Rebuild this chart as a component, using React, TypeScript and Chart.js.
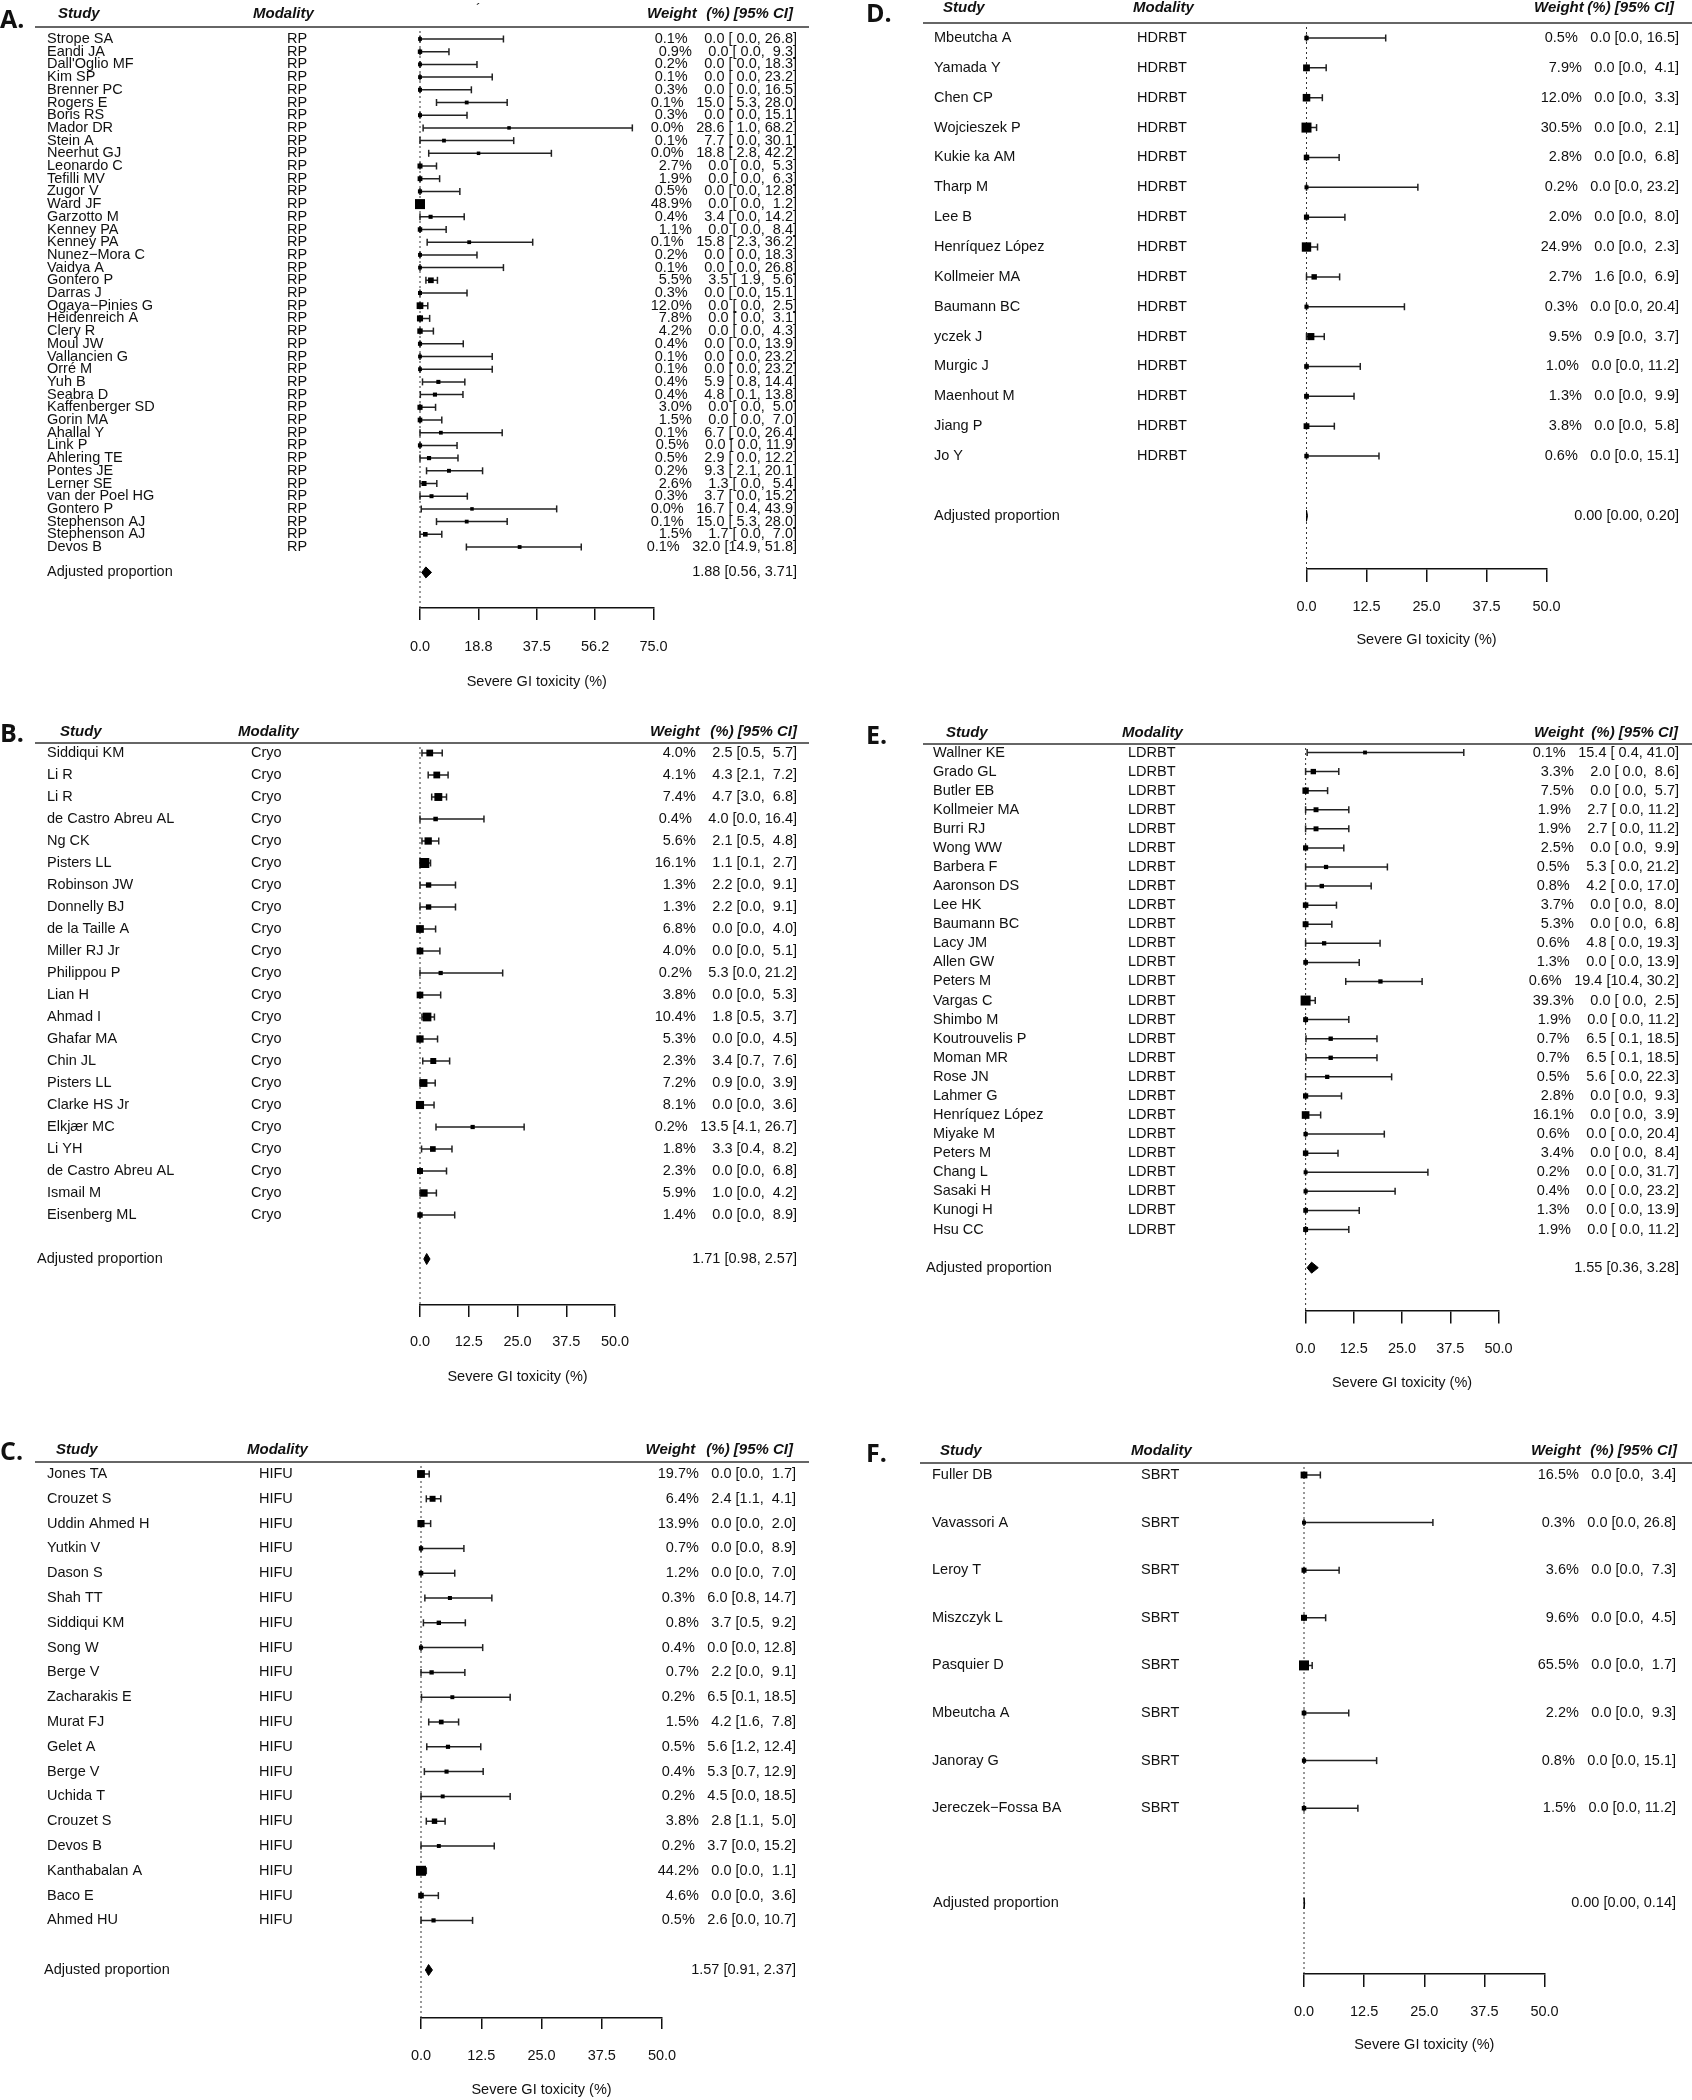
import React, { useEffect, useRef } from 'react';
import { Chart, registerables } from 'chart.js';

Chart.register(...registerables);

const FONT = '"Liberation Sans", Arial, Helvetica, sans-serif';
const TEXT = '#111111';
const INK = '#222222';
const AXIS_TITLE = 'Severe GI toxicity (%)';
const POOLED_LABEL = 'Adjusted proportion';

// ---------- Panel A: RP ----------
const modalityA = 'RP';
const studiesA = ['Strope SA', 'Eandi JA', "Dall'Oglio MF", 'Kim SP', 'Brenner PC', 'Rogers E', 'Boris RS', 'Mador DR', 'Stein A', 'Neerhut GJ', 'Leonardo C', 'Tefilli MV', 'Zugor V', 'Ward JF', 'Garzotto M', 'Kenney PA', 'Kenney PA', 'Nunez\u2212Mora C', 'Vaidya A', 'Gontero P', 'Darras J', 'Ogaya\u2212Pinies G', 'Heidenreich A', 'Clery R', 'Moul JW', 'Vallancien G', 'Orré M', 'Yuh B', 'Seabra D', 'Kaffenberger SD', 'Gorin MA', 'Ahallal Y', 'Link P', 'Ahlering TE', 'Pontes JE', 'Lerner SE', 'van der Poel HG', 'Gontero P', 'Stephenson AJ', 'Stephenson AJ', 'Devos B'];
const weightsA = [0.1, 0.9, 0.2, 0.1, 0.3, 0.1, 0.3, 0.0, 0.1, 0.0, 2.7, 1.9, 0.5, 48.9, 0.4, 1.1, 0.1, 0.2, 0.1, 5.5, 0.3, 12.0, 7.8, 4.2, 0.4, 0.1, 0.1, 0.4, 0.4, 3.0, 1.5, 0.1, 0.5, 0.5, 0.2, 2.6, 0.3, 0.0, 0.1, 1.5, 0.1];
const estA = [0, 0, 0, 0, 0, 15.0, 0, 28.6, 7.7, 18.8, 0, 0, 0, 0, 3.4, 0, 15.8, 0, 0, 3.5, 0, 0, 0, 0, 0, 0, 0, 5.9, 4.8, 0, 0, 6.7, 0, 2.9, 9.3, 1.3, 3.7, 16.7, 15.0, 1.7, 32.0];
const lowerA = [0, 0, 0, 0, 0, 5.3, 0, 1.0, 0, 2.8, 0, 0, 0, 0, 0, 0, 2.3, 0, 0, 1.9, 0, 0, 0, 0, 0, 0, 0, 0.8, 0.1, 0, 0, 0, 0, 0, 2.1, 0, 0, 0.4, 5.3, 0, 14.9];
const upperA = [26.8, 9.3, 18.3, 23.2, 16.5, 28.0, 15.1, 68.2, 30.1, 42.2, 5.3, 6.3, 12.8, 1.2, 14.2, 8.4, 36.2, 18.3, 26.8, 5.6, 15.1, 2.5, 3.1, 4.3, 13.9, 23.2, 23.2, 14.4, 13.8, 5.0, 7.0, 26.4, 11.9, 12.2, 20.1, 5.4, 15.2, 43.9, 28.0, 7.0, 51.8];
const pooledA = [1.88, 0.56, 3.71];
const ticksA = [0, 18.75, 37.5, 56.25, 75];
const tickLabelsA = ['0.0', '18.8', '37.5', '56.2', '75.0'];

// ---------- Panel B: Cryo ----------
const modalityB = 'Cryo';
const studiesB = ['Siddiqui KM', 'Li R', 'Li R', 'de Castro Abreu AL', 'Ng CK', 'Pisters LL', 'Robinson JW', 'Donnelly BJ', 'de la Taille A', 'Miller RJ Jr', 'Philippou P', 'Lian H', 'Ahmad I', 'Ghafar MA', 'Chin JL', 'Pisters LL', 'Clarke HS Jr', 'Elkjær MC', 'Li YH', 'de Castro Abreu AL', 'Ismail M', 'Eisenberg ML'];
const weightsB = [4.0, 4.1, 7.4, 0.4, 5.6, 16.1, 1.3, 1.3, 6.8, 4.0, 0.2, 3.8, 10.4, 5.3, 2.3, 7.2, 8.1, 0.2, 1.8, 2.3, 5.9, 1.4];
const estB = [2.5, 4.3, 4.7, 4.0, 2.1, 1.1, 2.2, 2.2, 0, 0, 5.3, 0, 1.8, 0, 3.4, 0.9, 0, 13.5, 3.3, 0, 1.0, 0];
const lowerB = [0.5, 2.1, 3.0, 0, 0.5, 0.1, 0, 0, 0, 0, 0, 0, 0.5, 0, 0.7, 0, 0, 4.1, 0.4, 0, 0, 0];
const upperB = [5.7, 7.2, 6.8, 16.4, 4.8, 2.7, 9.1, 9.1, 4.0, 5.1, 21.2, 5.3, 3.7, 4.5, 7.6, 3.9, 3.6, 26.7, 8.2, 6.8, 4.2, 8.9];
const pooledB = [1.71, 0.98, 2.57];

// ---------- Panel C: HIFU ----------
const modalityC = 'HIFU';
const studiesC = ['Jones TA', 'Crouzet S', 'Uddin Ahmed H', 'Yutkin V', 'Dason S', 'Shah TT', 'Siddiqui KM', 'Song W', 'Berge V', 'Zacharakis E', 'Murat FJ', 'Gelet A', 'Berge V', 'Uchida T', 'Crouzet S', 'Devos B', 'Kanthabalan A', 'Baco E', 'Ahmed HU'];
const weightsC = [19.7, 6.4, 13.9, 0.7, 1.2, 0.3, 0.8, 0.4, 0.7, 0.2, 1.5, 0.5, 0.4, 0.2, 3.8, 0.2, 44.2, 4.6, 0.5];
const estC = [0, 2.4, 0, 0, 0, 6.0, 3.7, 0, 2.2, 6.5, 4.2, 5.6, 5.3, 4.5, 2.8, 3.7, 0, 0, 2.6];
const lowerC = [0, 1.1, 0, 0, 0, 0.8, 0.5, 0, 0, 0.1, 1.6, 1.2, 0.7, 0, 1.1, 0, 0, 0, 0];
const upperC = [1.7, 4.1, 2.0, 8.9, 7.0, 14.7, 9.2, 12.8, 9.1, 18.5, 7.8, 12.4, 12.9, 18.5, 5.0, 15.2, 1.1, 3.6, 10.7];
const pooledC = [1.57, 0.91, 2.37];

// ---------- Panel D: HDRBT ----------
const modalityD = 'HDRBT';
const studiesD = ['Mbeutcha A', 'Yamada Y', 'Chen CP', 'Wojcieszek P', 'Kukie ka AM', 'Tharp M', 'Lee B', 'Henríquez López', 'Kollmeier MA', 'Baumann BC', 'yczek J', 'Murgic J', 'Maenhout M', 'Jiang P', 'Jo Y'];
const weightsD = [0.5, 7.9, 12.0, 30.5, 2.8, 0.2, 2.0, 24.9, 2.7, 0.3, 9.5, 1.0, 1.3, 3.8, 0.6];
const estD = [0, 0, 0, 0, 0, 0, 0, 0, 1.6, 0, 0.9, 0, 0, 0, 0];
const lowerD = [0, 0, 0, 0, 0, 0, 0, 0, 0, 0, 0, 0, 0, 0, 0];
const upperD = [16.5, 4.1, 3.3, 2.1, 6.8, 23.2, 8.0, 2.3, 6.9, 20.4, 3.7, 11.2, 9.9, 5.8, 15.1];
const pooledD = [0.0, 0.0, 0.2];

// ---------- Panel E: LDRBT ----------
const modalityE = 'LDRBT';
const studiesE = ['Wallner KE', 'Grado GL', 'Butler EB', 'Kollmeier MA', 'Burri RJ', 'Wong WW', 'Barbera F', 'Aaronson DS', 'Lee HK', 'Baumann BC', 'Lacy JM', 'Allen GW', 'Peters M', 'Vargas C', 'Shimbo M', 'Koutrouvelis P', 'Moman MR', 'Rose JN', 'Lahmer G', 'Henríquez López', 'Miyake M', 'Peters M', 'Chang L', 'Sasaki H', 'Kunogi H', 'Hsu CC'];
const weightsE = [0.1, 3.3, 7.5, 1.9, 1.9, 2.5, 0.5, 0.8, 3.7, 5.3, 0.6, 1.3, 0.6, 39.3, 1.9, 0.7, 0.7, 0.5, 2.8, 16.1, 0.6, 3.4, 0.2, 0.4, 1.3, 1.9];
const estE = [15.4, 2.0, 0, 2.7, 2.7, 0, 5.3, 4.2, 0, 0, 4.8, 0, 19.4, 0, 0, 6.5, 6.5, 5.6, 0, 0, 0, 0, 0, 0, 0, 0];
const lowerE = [0.4, 0, 0, 0, 0, 0, 0, 0, 0, 0, 0, 0, 10.4, 0, 0, 0.1, 0.1, 0, 0, 0, 0, 0, 0, 0, 0, 0];
const upperE = [41.0, 8.6, 5.7, 11.2, 11.2, 9.9, 21.2, 17.0, 8.0, 6.8, 19.3, 13.9, 30.2, 2.5, 11.2, 18.5, 18.5, 22.3, 9.3, 3.9, 20.4, 8.4, 31.7, 23.2, 13.9, 11.2];
const pooledE = [1.55, 0.36, 3.28];

// ---------- Panel F: SBRT ----------
const modalityF = 'SBRT';
const studiesF = ['Fuller DB', 'Vavassori A', 'Leroy T', 'Miszczyk L', 'Pasquier D', 'Mbeutcha A', 'Janoray G', 'Jereczek\u2212Fossa BA'];
const weightsF = [16.5, 0.3, 3.6, 9.6, 65.5, 2.2, 0.8, 1.5];
const estF = [0, 0, 0, 0, 0, 0, 0, 0];
const lowerF = [0, 0, 0, 0, 0, 0, 0, 0];
const upperF = [3.4, 26.8, 7.3, 4.5, 1.7, 9.3, 15.1, 11.2];
const pooledF = [0.0, 0.0, 0.14];

const ticks50 = [0, 12.5, 25, 37.5, 50];
const tickLabels50 = ['0.0', '12.5', '25.0', '37.5', '50.0'];

// ---------- layout (page pixels) ----------
type Layout = {
  left: number; top: number; width: number; height: number;
  letterX: number; letterY: number;
  headY: number; studyHX: number; modHX: number; weightHX: number; ciHR: number;
  lineY: number; lineX0: number; lineX1: number;
  firstY: number; step: number;
  nameX: number; modX: number; ciR: number; adjX: number;
  zeroX: number; maxX: number; axisY: number; tickLen: number; labelY: number; titleY: number;
};

const layoutA: Layout = { left: 0, top: 0, width: 846, height: 700, letterX: 0, letterY: 21, headY: 14, studyHX: 58, modHX: 253, weightHX: 647, ciHR: 793, lineY: 27, lineX0: 35, lineX1: 809, firstY: 39, step: 12.7, nameX: 47, modX: 287, ciR: 797, adjX: 47, zeroX: 420, maxX: 653.5, axisY: 608, tickLen: 12, labelY: 647, titleY: 682 };
const layoutB: Layout = { left: 0, top: 700, width: 846, height: 720, letterX: 0, letterY: 735, headY: 732, studyHX: 60, modHX: 238, weightHX: 650, ciHR: 797, lineY: 743, lineX0: 35, lineX1: 809, firstY: 753, step: 22, nameX: 47, modX: 251, ciR: 797, adjX: 37, zeroX: 420, maxX: 615, axisY: 1305, tickLen: 12, labelY: 1342, titleY: 1377 };
const layoutC: Layout = { left: 0, top: 1420, width: 846, height: 680, letterX: 0, letterY: 1453, headY: 1449.5, studyHX: 56, modHX: 247, weightHX: 645.5, ciHR: 793, lineY: 1462, lineX0: 35, lineX1: 809, firstY: 1474, step: 24.8, nameX: 47, modX: 259, ciR: 796, adjX: 44, zeroX: 421, maxX: 662, axisY: 2018, tickLen: 11, labelY: 2056, titleY: 2090 };
const layoutD: Layout = { left: 846, top: 0, width: 846, height: 700, letterX: 866, letterY: 15, headY: 8, studyHX: 943, modHX: 1133, weightHX: 1534, ciHR: 1674, lineY: 23, lineX0: 923, lineX1: 1692, firstY: 38, step: 29.86, nameX: 934, modX: 1137, ciR: 1679, adjX: 934, zeroX: 1306.5, maxX: 1546.5, axisY: 569, tickLen: 13, labelY: 607, titleY: 640 };
const layoutE: Layout = { left: 846, top: 700, width: 846, height: 720, letterX: 866, letterY: 737, headY: 733, studyHX: 946, modHX: 1122, weightHX: 1534, ciHR: 1678, lineY: 744, lineX0: 923, lineX1: 1692, firstY: 752.5, step: 19.08, nameX: 933, modX: 1128, ciR: 1679, adjX: 926, zeroX: 1305.6, maxX: 1498.5, axisY: 1310.6, tickLen: 13, labelY: 1349, titleY: 1383 };
const layoutF: Layout = { left: 846, top: 1420, width: 846, height: 680, letterX: 866, letterY: 1455, headY: 1451, studyHX: 940, modHX: 1131, weightHX: 1531, ciHR: 1677, lineY: 1463, lineX0: 920, lineX1: 1692, firstY: 1475, step: 47.6, nameX: 932, modX: 1141, ciR: 1676, adjX: 933, zeroX: 1304, maxX: 1544.5, axisY: 1974, tickLen: 13, labelY: 2012, titleY: 2045 };

type Panel = {
  letter: string; modality: string; studies: string[]; weights: number[];
  est: number[]; lower: number[]; upper: number[]; pooled: number[];
  ticks: number[]; tickLabels: string[]; layout: Layout; mark?: boolean;
};

const panels: Panel[] = [
  { letter: 'A.', modality: modalityA, studies: studiesA, weights: weightsA, est: estA, lower: lowerA, upper: upperA, pooled: pooledA, ticks: ticksA, tickLabels: tickLabelsA, layout: layoutA, mark: true },
  { letter: 'B.', modality: modalityB, studies: studiesB, weights: weightsB, est: estB, lower: lowerB, upper: upperB, pooled: pooledB, ticks: ticks50, tickLabels: tickLabels50, layout: layoutB },
  { letter: 'C.', modality: modalityC, studies: studiesC, weights: weightsC, est: estC, lower: lowerC, upper: upperC, pooled: pooledC, ticks: ticks50, tickLabels: tickLabels50, layout: layoutC },
  { letter: 'D.', modality: modalityD, studies: studiesD, weights: weightsD, est: estD, lower: lowerD, upper: upperD, pooled: pooledD, ticks: ticks50, tickLabels: tickLabels50, layout: layoutD },
  { letter: 'E.', modality: modalityE, studies: studiesE, weights: weightsE, est: estE, lower: lowerE, upper: upperE, pooled: pooledE, ticks: ticks50, tickLabels: tickLabels50, layout: layoutE },
  { letter: 'F.', modality: modalityF, studies: studiesF, weights: weightsF, est: estF, lower: lowerF, upper: upperF, pooled: pooledF, ticks: ticks50, tickLabels: tickLabels50, layout: layoutF },
];

const BODY_SIZE = 14.5;
const GAP = 12.5;

function padCol(values: number[]): string[] {
  const s = values.map((v) => v.toFixed(1));
  const m = Math.max(...s.map((t) => t.length));
  return s.map((t) => t.padStart(m, ' '));
}

function makeChart(canvas: HTMLCanvasElement, p: Panel) {
  const L = p.layout;
  const ox = L.left;
  const oy = L.top;
  const n = p.studies.length;
  const rows = p.studies.map((_, i) => i + 1);
  const pooledRow = n + 2;
  const maxW = Math.max(...p.weights);
  const radii = p.weights.map((w) => (3.5 + 6.5 * Math.sqrt(w / maxW)) / Math.SQRT2);
  const whisker: { x: number | null; y: number | null }[] = [];
  rows.forEach((r, i) => {
    whisker.push({ x: p.lower[i], y: r }, { x: p.upper[i], y: r }, { x: null, y: null });
  });
  const estS = padCol(p.est);
  const loS = padCol(p.lower);
  const hiS = padCol(p.upper);
  const rightS = rows.map((_, i) => `${estS[i]} [${loS[i]}, ${hiS[i]}]`);
  const weightS = p.weights.map((w) => `${w.toFixed(1)}%`);
  const pooledS = `${p.pooled[0].toFixed(2)} [${p.pooled[1].toFixed(2)}, ${p.pooled[2].toFixed(2)}]`;
  const yMin = 1 - (L.firstY - L.lineY) / L.step;
  const yMax = 1 + (L.axisY - L.firstY) / L.step;
  const xMax = p.ticks[p.ticks.length - 1];
  const bodyFont = `${BODY_SIZE}px ${FONT}`;

  const forestPlugin = {
    id: 'forest' + p.letter.charAt(0),
    beforeDatasetsDraw(chart: any) {
      const { ctx, chartArea } = chart;
      const zx = chart.scales.x.getPixelForValue(0);
      ctx.save();
      ctx.strokeStyle = '#333';
      ctx.lineWidth = 1;
      ctx.setLineDash([2, 3]);
      ctx.beginPath();
      ctx.moveTo(zx, chartArea.top + 4);
      ctx.lineTo(zx, chartArea.bottom);
      ctx.stroke();
      ctx.restore();
    },
    afterDatasetsDraw(chart: any) {
      const { ctx } = chart;
      const x = chart.scales.x;
      const yc = chart.scales.y.getPixelForValue(pooledRow);
      const [est, lo, hi] = p.pooled;
      const h = 5.5;
      ctx.save();
      ctx.fillStyle = '#000';
      ctx.strokeStyle = '#000';
      ctx.lineWidth = 1;
      ctx.beginPath();
      ctx.moveTo(x.getPixelForValue(lo), yc);
      ctx.lineTo(x.getPixelForValue(est), yc - h);
      ctx.lineTo(x.getPixelForValue(hi), yc);
      ctx.lineTo(x.getPixelForValue(est), yc + h);
      ctx.closePath();
      ctx.fill();
      ctx.stroke();
      ctx.restore();
    },
    afterDraw(chart: any) {
      const { ctx } = chart;
      const x = chart.scales.x;
      const y = chart.scales.y;
      ctx.save();
      ctx.fillStyle = TEXT;
      ctx.textBaseline = 'middle';
      ctx.textAlign = 'left';
      ctx.font = `bold 25px "Open Sans", ${FONT}`;
      ctx.fillText(p.letter, L.letterX - ox, L.letterY - oy);
      if (p.mark) {
        ctx.font = `14px ${FONT}`;
        ctx.fillText('\u00B4', 476 - ox, 10 - oy);
      }
      ctx.font = `italic bold 15px ${FONT}`;
      ctx.fillText('Study', L.studyHX - ox, L.headY - oy);
      ctx.fillText('Modality', L.modHX - ox, L.headY - oy);
      ctx.fillText('Weight', L.weightHX - ox, L.headY - oy);
      ctx.textAlign = 'right';
      ctx.fillText('(%) [95% CI]', L.ciHR - ox, L.headY - oy);
      ctx.strokeStyle = '#333';
      ctx.lineWidth = 1.5;
      ctx.beginPath();
      ctx.moveTo(L.lineX0 - ox, L.lineY - oy);
      ctx.lineTo(L.lineX1 - ox, L.lineY - oy);
      ctx.stroke();

      ctx.font = bodyFont;
      rows.forEach((r, i) => {
        const yy = y.getPixelForValue(r);
        ctx.textAlign = 'left';
        ctx.fillText(p.studies[i], L.nameX - ox, yy);
        ctx.fillText(p.modality, L.modX - ox, yy);
        ctx.textAlign = 'right';
        ctx.fillText(rightS[i], L.ciR - ox, yy);
        const wr = L.ciR - ox - ctx.measureText(rightS[i]).width - GAP;
        ctx.fillText(weightS[i], wr, yy);
      });
      const yp = y.getPixelForValue(pooledRow);
      ctx.textAlign = 'left';
      ctx.fillText(POOLED_LABEL, L.adjX - ox, yp);
      ctx.textAlign = 'right';
      ctx.fillText(pooledS, L.ciR - ox, yp);
      ctx.textAlign = 'center';
      ctx.fillText(AXIS_TITLE, (x.left + x.right) / 2, L.titleY - oy);
      ctx.restore();
    },
  };

  return new Chart(canvas, {
    type: 'scatter',
    data: {
      datasets: [
        {
          type: 'scatter',
          data: rows.map((r, i) => ({ x: p.est[i], y: r })),
          pointStyle: 'rect',
          pointRadius: radii,
          pointHoverRadius: radii,
          backgroundColor: '#000',
          pointBackgroundColor: '#000',
          pointBorderWidth: 0,
          borderWidth: 0,
          clip: false,
        } as any,
        {
          type: 'line',
          data: whisker,
          showLine: true,
          spanGaps: false,
          borderColor: INK,
          borderWidth: 1.5,
          pointStyle: 'line',
          pointRotation: 90,
          pointRadius: 3.5,
          pointHoverRadius: 3.5,
          pointBorderColor: INK,
          pointBorderWidth: 1.5,
          pointBackgroundColor: INK,
          fill: false,
          tension: 0,
          clip: false,
        } as any,
      ],
    },
    options: {
      responsive: false,
      animation: false,
      devicePixelRatio: 1,
      events: [],
      layout: {
        padding: { left: L.zeroX - ox, right: L.width - (L.maxX - ox), top: L.lineY - oy, bottom: 0 },
      },
      plugins: { legend: { display: false }, tooltip: { enabled: false }, title: { display: false } },
      scales: {
        x: {
          type: 'linear',
          position: 'bottom',
          min: 0,
          max: xMax,
          afterBuildTicks: (axis: any) => {
            axis.ticks = p.ticks.map((v) => ({ value: v }));
          },
          afterFit: (axis: any) => {
            axis.height = L.height - (L.axisY - oy);
          },
          ticks: {
            autoSkip: false,
            maxRotation: 0,
            minRotation: 0,
            padding: L.labelY - L.axisY - L.tickLen - (BODY_SIZE * 1.2) / 2,
            color: TEXT,
            font: { family: FONT, size: BODY_SIZE },
            callback: (_v: any, i: number) => p.tickLabels[i],
          },
          grid: { display: true, drawOnChartArea: false, drawTicks: true, tickLength: L.tickLen, color: '#111', lineWidth: 1.5 },
          border: { display: true, color: '#111', width: 1.5 },
          title: { display: false },
        },
        y: { type: 'linear', display: false, reverse: true, min: yMin, max: yMax },
      },
    } as any,
    plugins: [forestPlugin],
  });
}

function ForestPanel({ p }: { p: Panel }) {
  const ref = useRef<HTMLCanvasElement>(null);
  useEffect(() => {
    if (!ref.current) return;
    const chart = makeChart(ref.current, p);
    return () => chart.destroy();
  }, [p]);
  const L = p.layout;
  return (
    <canvas
      ref={ref}
      width={L.width}
      height={L.height}
      style={{ position: 'absolute', left: L.left, top: L.top, width: L.width, height: L.height }}
    />
  );
}

export default function App() {
  return (
    <div style={{ position: 'absolute', left: 0, top: 0, width: 1692, height: 2100, background: '#ffffff', overflow: 'hidden' }}>
      {panels.map((p) => (
        <ForestPanel key={p.letter} p={p} />
      ))}
    </div>
  );
}
